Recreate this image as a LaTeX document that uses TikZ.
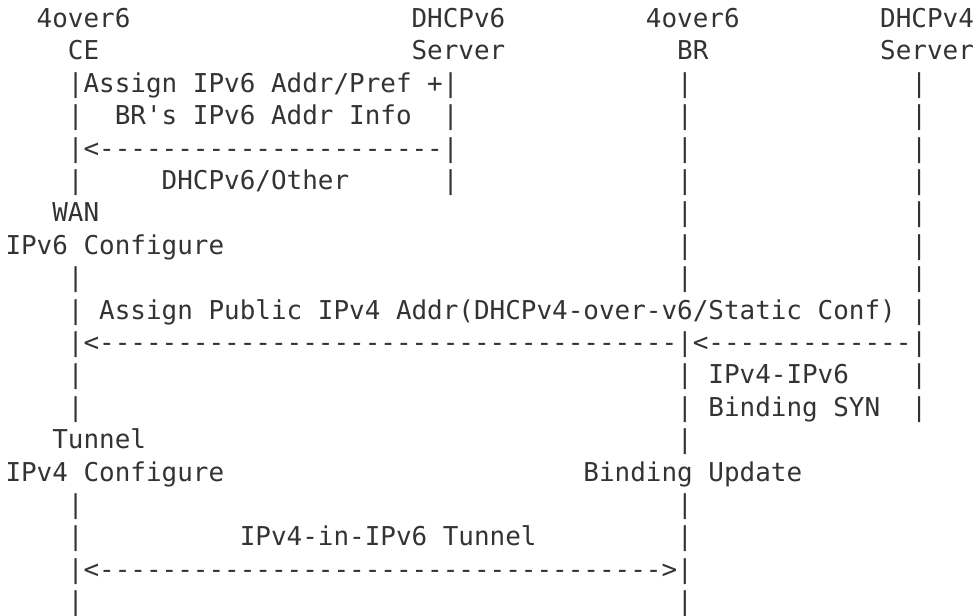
\documentclass[tikz,border=0pt]{standalone}
\usepackage{fontspec}
\setmonofont{DejaVu Sans Mono}
\usepackage{tikz}
\usepackage{xcolor}
\definecolor{ink}{HTML}{333333}
\newcommand{\asciifont}{\ttfamily\fontsize{19.46pt}{24.3pt}\selectfont}
\tikzset{
    ascii/.style = {anchor=base west, inner sep=0pt, outer sep=0pt, text=ink, font=\asciifont},
}

\begin{document}
\begin{tikzpicture}[x=11.715pt, y=-24.3pt]
% one unit = one character cell, one row = one text line
\useasboundingbox (-4.125pt,20.625pt) rectangle ++(730.5pt,-461.25pt);

% column heads
\node[ascii] (ce-top) at (2,0) {4over6};
\node[ascii] (v6srv-top) at (26,0) {DHCPv6};
\node[ascii] (br-top) at (41,0) {4over6};
\node[ascii] (v4srv-top) at (56,0) {DHCPv4};
\node[ascii] (ce-name) at (4,1) {CE};
\node[ascii] (v6srv-name) at (26,1) {Server};
\node[ascii] (br-name) at (43,1) {BR};
\node[ascii] (v4srv-name) at (56,1) {Server};

% lifelines
\foreach \r in {3,5,8,11,12,15,16,18}
    \node[ascii] (ce-\r) at (4,\r) {|};
\foreach \r in {3,5}
    \node[ascii] (v6srv-\r) at (28,\r) {|};
\foreach \r in {2,...,8,13,15,16,18}
    \node[ascii] (br-\r) at (43,\r) {|};
\foreach \r in {2,...,8,11,12}
    \node[ascii] (v4srv-\r) at (58,\r) {|};

% WAN side: IPv6 address from DHCPv6
\node[ascii] (v6-assign) at (4,2) {|Assign IPv6 Addr/Pref +|};
\node[ascii] (v6-info) at (7,3) {BR's IPv6 Addr Info};
\node[ascii] (v6-arrow) at (4,4) {|<----------------------|};
\node[ascii] (v6-via) at (10,5) {DHCPv6/Other};
\node[ascii] (wan) at (3,6) {WAN};
\node[ascii] (wan-conf) at (0,7) {IPv6 Configure};

% public IPv4 address
\node[ascii] (v4-assign) at (4,9) {| Assign Public IPv4 Addr(DHCPv4-over-v6/Static Conf) |};
\node[ascii] (v4-arrow) at (4,10) {|<-------------------------------------|<-------------|};
\node[ascii] (sync-a) at (43,11) {| IPv4-IPv6};
\node[ascii] (sync-b) at (43,12) {| Binding SYN};
\node[ascii] (tunnel) at (3,13) {Tunnel};
\node[ascii] (tunnel-conf) at (0,14) {IPv4 Configure};
\node[ascii] (binding) at (37,14) {Binding Update};

% tunnel
\node[ascii] (tun-label) at (15,16) {IPv4-in-IPv6 Tunnel};
\node[ascii] (tun-arrow) at (4,17) {|<------------------------------------>|};
\end{tikzpicture}
\end{document}
